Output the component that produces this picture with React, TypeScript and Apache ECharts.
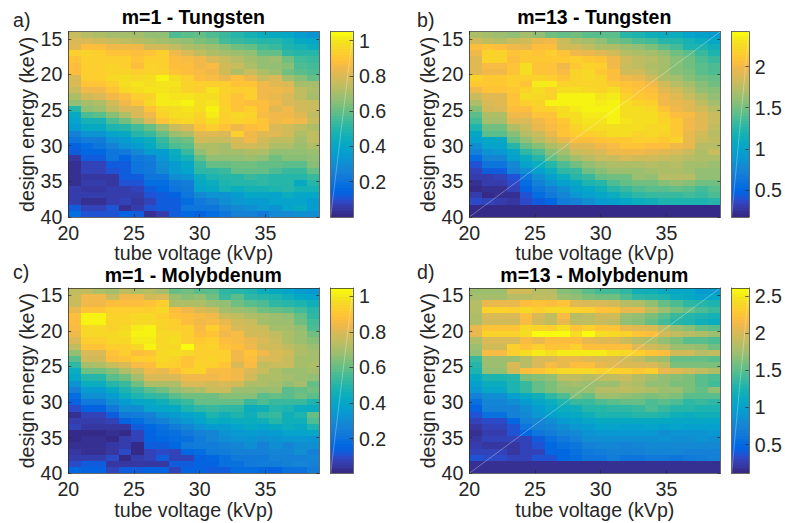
import React, { useEffect, useRef } from "react";
import * as echarts from "echarts";

// All panel values are the colour value x 100; rows run from the top (14 keV) down to 40 keV.
const panelA = [
[76,73,71,70,70,69,67,66,57,58,60,57,54,50,47,44,42,40,36,32],
[80,80,78,76,75,73,72,70,68,66,63,62,55,54,52,50,50,46,42,40],
[82,88,88,85,85,85,78,78,75,72,70,68,65,62,60,55,54,48,46,44],
[93,94,93,90,90,88,90,92,85,80,75,72,70,68,66,60,60,52,50,50],
[90,93,93,92,92,90,92,92,88,86,84,80,76,73,70,66,68,62,55,54],
[88,92,92,94,92,88,94,92,88,88,85,86,78,76,72,66,66,64,56,55],
[88,92,92,95,95,92,94,95,90,88,86,84,78,72,76,72,68,62,58,56],
[80,92,92,96,98,96,98,103,98,92,88,86,83,88,83,76,80,70,65,60],
[80,90,90,92,98,100,98,100,100,95,92,92,92,90,90,85,82,80,70,70],
[76,84,85,90,96,97,100,100,97,95,92,100,94,92,92,85,84,83,75,72],
[72,78,80,84,88,92,94,101,100,100,97,98,92,90,92,85,83,80,75,70],
[66,70,72,78,84,90,96,101,101,103,97,99,93,90,88,88,84,80,78,76],
[50,66,68,74,80,80,90,96,98,100,98,102,94,90,92,88,82,84,78,76],
[42,56,58,64,72,80,84,94,98,97,95,101,92,96,94,86,85,84,82,74],
[38,46,46,56,62,70,80,90,94,96,93,98,92,94,92,90,85,86,85,76],
[36,42,42,48,50,55,60,68,76,80,90,92,90,84,88,90,80,78,74,72],
[26,32,32,38,42,50,54,60,68,72,82,82,80,92,84,82,82,78,72,74],
[20,24,24,32,35,40,44,54,60,62,78,76,76,80,84,78,74,74,70,74],
[14,18,20,26,32,36,42,50,56,58,72,72,70,78,78,76,72,72,68,72],
[13,16,16,20,22,28,36,36,44,54,66,72,70,70,72,72,66,66,66,68],
[4,13,13,20,15,22,24,34,42,46,60,66,66,66,68,66,62,64,64,66],
[3,8,8,12,13,20,22,30,36,40,54,60,60,62,62,60,60,58,58,64],
[2,7,7,10,13,20,22,28,36,38,52,52,54,60,60,60,56,54,54,60],
[2,4,4,4,12,13,20,20,30,32,44,48,50,50,54,52,50,50,50,54],
[3,6,6,4,10,10,17,18,22,24,42,44,48,50,50,52,50,50,42,50],
[6,4,4,6,5,7,13,15,20,22,38,42,46,44,46,46,48,50,46,46],
[5,5,5,6,6,6,10,13,14,20,28,32,32,36,40,40,38,44,40,40],
[5,2,2,6,7,4,7,12,13,18,22,26,30,34,36,36,38,38,38,36],
[12,8,8,10,2,5,10,12,13,20,20,20,26,28,30,34,32,38,42,36],
[17,10,10,10,14,13,3,6,13,15,14,18,20,26,25,22,28,28,30,30],
];

const panelB = [
[172,165,162,160,168,160,150,145,150,142,142,142,125,120,115,110,110,100,95,92],
[185,178,175,180,185,195,200,180,172,165,160,150,145,138,135,125,125,118,110,105],
[205,210,205,200,195,205,205,185,185,178,172,170,162,160,152,142,135,122,120,115],
[198,218,218,208,212,210,215,210,198,195,190,185,175,172,165,158,150,142,130,120],
[190,218,218,205,212,212,212,212,215,212,210,198,185,178,175,168,155,148,140,132],
[192,202,202,210,225,208,208,200,212,218,215,198,182,178,172,165,155,150,142,138],
[190,200,200,210,228,210,208,202,220,222,212,205,185,185,175,168,155,152,142,138],
[220,212,212,215,215,220,215,210,218,222,218,205,200,195,185,172,168,155,148,145],
[212,212,212,215,210,232,235,218,220,220,220,212,208,205,198,185,175,165,155,150],
[198,208,208,212,218,228,215,228,228,222,220,225,212,208,205,190,185,175,160,155],
[182,192,192,210,225,222,220,238,238,238,230,235,220,212,210,198,190,182,172,160],
[172,188,190,208,215,220,238,238,238,238,232,236,225,218,215,200,195,190,178,168],
[155,185,188,205,205,215,220,225,233,238,238,238,228,225,222,208,198,192,185,175],
[142,172,172,200,198,210,210,228,225,233,235,238,228,225,225,215,205,202,192,180],
[135,165,168,190,188,200,205,212,225,230,230,238,230,228,225,218,212,200,190,180],
[120,150,150,172,182,195,202,208,220,225,228,228,228,228,222,222,212,198,190,178],
[102,142,142,155,175,182,195,208,215,215,220,225,225,220,222,220,212,195,185,175],
[95,105,105,145,160,175,185,195,205,205,208,212,212,215,215,212,218,195,180,178],
[82,100,100,125,145,155,172,178,190,192,200,202,210,210,205,205,200,195,175,175],
[72,85,88,105,128,140,155,168,180,185,188,200,200,200,195,192,188,182,172,182],
[55,75,75,95,110,125,145,155,168,175,180,180,188,185,185,182,178,175,170,172],
[40,62,62,78,100,110,125,140,150,160,168,172,172,172,175,172,175,165,165,162],
[32,42,42,72,82,95,112,128,132,150,155,162,162,162,165,172,172,168,160,158],
[28,30,32,40,62,82,98,112,125,130,145,150,150,162,160,175,175,175,160,158],
[22,28,28,38,55,70,85,95,108,120,125,138,145,148,150,155,160,155,150,150],
[20,22,22,32,48,62,72,82,95,105,115,125,132,138,142,142,145,142,135,142],
[28,20,22,22,40,55,65,75,88,95,105,112,120,128,130,130,130,135,130,138],
[35,32,30,26,35,42,52,68,72,82,92,95,105,112,115,120,120,120,120,125],
[20,20,20,20,20,20,20,20,20,20,20,20,20,20,20,20,20,20,20,20],
[20,20,20,20,20,20,20,20,20,20,20,20,20,20,20,20,20,20,20,20],
];

const panelC = [
[74,74,72,70,74,72,73,70,60,62,58,58,52,50,48,44,42,38,36,34],
[76,85,85,76,84,84,78,80,68,64,66,62,54,58,52,50,48,46,40,38],
[76,85,85,88,88,88,90,92,72,72,72,68,66,62,58,56,52,50,48,46],
[82,90,90,92,92,92,92,96,88,84,80,78,70,68,66,62,60,58,55,50],
[88,102,102,94,94,96,96,92,90,88,86,84,76,74,72,70,68,66,60,52],
[88,102,102,94,94,96,96,94,92,88,84,86,82,78,76,70,68,68,62,55],
[86,96,96,94,96,101,102,94,92,92,86,92,86,80,78,76,70,70,66,56],
[84,96,96,96,97,102,103,96,96,93,88,90,84,86,78,78,74,72,68,62],
[80,93,93,96,96,101,101,96,98,92,91,92,88,86,82,80,76,72,68,64],
[74,90,90,93,93,96,103,96,96,104,92,94,90,88,84,78,78,74,72,68],
[66,80,80,90,92,88,90,96,97,96,92,92,92,84,90,84,80,78,72,70],
[58,78,78,88,90,92,92,96,94,90,92,94,92,85,88,80,80,76,70,70],
[52,70,72,76,80,86,88,94,92,90,94,92,90,80,86,74,76,76,70,72],
[44,62,62,64,72,76,84,82,88,92,94,86,86,84,80,76,72,68,68,70],
[40,50,50,58,62,70,80,80,80,84,84,84,86,84,78,72,72,70,68,66],
[32,44,44,50,54,62,72,72,72,80,80,78,80,78,72,72,70,66,70,60],
[26,36,36,42,48,54,58,62,66,70,72,76,76,68,68,66,68,58,60,62],
[18,30,30,36,44,48,52,54,58,62,62,62,64,64,64,58,60,58,62,58],
[14,22,22,30,36,40,42,46,50,54,60,60,60,60,54,56,54,54,54,48],
[10,14,14,22,30,30,38,40,42,48,52,54,52,52,44,46,50,48,44,44],
[3,8,8,12,22,24,26,32,36,38,42,48,46,48,46,52,54,46,48,60],
[6,6,6,8,14,18,22,26,30,34,38,44,42,44,44,46,50,46,46,56],
[8,4,4,4,4,12,16,20,24,28,32,36,36,38,42,38,42,44,42,48],
[2,2,2,3,2,8,14,17,20,22,26,28,32,34,36,34,36,38,38,40],
[2,3,3,1,6,8,14,16,18,20,24,28,30,32,32,30,32,34,34,32],
[3,3,3,4,7,2,12,12,16,22,24,24,26,28,30,26,30,28,30,30],
[4,3,3,5,9,2,8,10,8,16,18,22,24,26,26,26,28,28,30,26],
[7,7,7,10,1,6,8,12,8,8,14,16,20,22,22,22,26,26,26,28],
[10,13,13,5,4,4,4,4,12,12,14,14,20,20,22,24,24,26,28,26],
[16,14,14,8,13,13,15,14,8,14,15,12,12,18,18,16,14,20,20,24],
];

const panelD = [
[175,172,172,195,195,185,185,165,160,150,142,142,135,120,120,110,105,105,95,95],
[178,178,178,185,185,190,190,172,170,160,158,158,145,135,132,125,115,110,102,105],
[185,210,210,210,220,225,220,225,205,200,200,195,185,180,170,155,145,135,130,125],
[185,235,235,232,238,230,238,238,235,230,225,225,208,208,190,172,162,155,145,140],
[180,200,200,200,220,200,190,215,185,190,195,195,175,170,162,150,140,132,128,122],
[180,195,195,195,215,195,190,210,190,190,192,190,170,165,155,142,132,125,120,115],
[210,225,225,225,238,235,230,245,225,230,225,225,210,205,200,185,175,165,155,150],
[210,235,235,235,245,258,260,258,245,260,242,240,235,225,220,198,190,185,180,172],
[180,200,200,200,215,210,220,220,220,210,205,205,192,185,180,170,162,150,148,145],
[175,195,195,230,225,230,225,225,230,220,220,220,220,205,198,190,175,175,170,158],
[170,215,215,230,242,250,245,252,250,250,252,242,238,230,225,220,195,195,185,190],
[140,175,175,175,185,200,200,210,210,205,200,202,198,188,178,172,155,155,155,148],
[130,175,175,200,185,200,215,210,220,220,210,205,200,200,200,190,160,160,162,160],
[125,170,170,195,220,225,230,240,240,240,235,235,232,228,230,208,205,195,190,180],
[110,125,125,132,160,165,170,190,190,185,190,190,192,185,178,170,165,162,150,145],
[100,115,115,125,140,155,160,175,178,175,175,175,185,180,170,168,160,160,150,142],
[90,105,105,125,140,155,160,170,170,172,185,185,188,185,180,175,172,162,152,168],
[70,85,85,100,110,120,135,145,160,155,175,172,170,165,160,165,162,150,150,150],
[55,75,75,85,95,105,115,125,140,140,145,150,152,155,145,150,145,135,140,135],
[45,70,70,72,85,95,105,115,120,130,130,135,135,138,145,140,130,130,128,128],
[35,55,55,70,80,90,100,105,110,120,125,125,128,130,130,125,120,115,120,120],
[30,32,32,50,70,75,85,95,100,105,110,110,112,110,112,110,105,108,105,105],
[22,28,28,38,60,70,75,85,90,95,102,102,100,100,102,100,102,100,98,98],
[18,25,25,35,50,60,68,75,80,88,92,90,92,90,92,85,88,88,88,90],
[20,27,27,27,30,42,55,65,72,85,85,85,85,85,85,88,85,85,88,85],
[25,22,22,20,30,36,50,55,60,70,75,75,72,75,78,78,80,80,78,78],
[30,28,28,22,28,30,48,50,55,65,68,70,70,72,75,75,75,72,72,72],
[35,32,32,30,30,36,38,50,52,62,62,66,60,62,65,65,62,65,66,70],
[17,17,17,17,17,17,17,17,17,17,17,17,17,17,17,17,17,17,17,17],
[17,17,17,17,17,17,17,17,17,17,17,17,17,17,17,17,17,17,17,17],
];

const titles = ["m=1 - Tungsten", "m=13 - Tungsten", "m=1 - Molybdenum", "m=13 - Molybdenum"];
const letters = ["a)", "b)", "c)", "d)"];
const panels = [panelA, panelB, panelC, panelD];
const colorRanges = [[0, 1.05], [0.17, 2.425], [0.005, 1.047], [0.113, 2.61]];
const colorTicks = [[0.2, 0.4, 0.6, 0.8, 1], [0.5, 1, 1.5, 2], [0.2, 0.4, 0.6, 0.8, 1], [0.5, 1, 1.5, 2, 2.5]];
const hasDiagonal = [false, true, false, true];
const xTicks = [20, 25, 30, 35];
const yTicks = [15, 20, 25, 30, 35, 40];
const xRange = [20, 39.1];
const yRange = [14, 40];

const parula = [
[.2081,.1663,.5292],[.2116,.1898,.5777],[.2123,.2138,.6270],[.2081,.2386,.6771],[.1959,.2645,.7279],[.1707,.2919,.7792],[.1253,.3242,.8303],[.0591,.3598,.8683],
[.0117,.3875,.8820],[.0060,.4086,.8828],[.0165,.4266,.8786],[.0329,.4430,.8720],[.0498,.4586,.8641],[.0629,.4737,.8554],[.0723,.4887,.8467],[.0779,.5040,.8384],
[.0793,.5200,.8312],[.0749,.5375,.8263],[.0641,.5570,.8240],[.0488,.5772,.8228],[.0343,.5966,.8199],[.0265,.6137,.8135],[.0239,.6287,.8038],[.0231,.6418,.7913],
[.0228,.6535,.7768],[.0267,.6642,.7607],[.0384,.6743,.7436],[.0590,.6838,.7254],[.0843,.6928,.7062],[.1133,.7015,.6859],[.1453,.7098,.6646],[.1801,.7177,.6424],
[.2178,.7250,.6193],[.2586,.7317,.5954],[.3022,.7376,.5712],[.3482,.7424,.5473],[.3953,.7459,.5244],[.4420,.7481,.5033],[.4871,.7491,.4840],[.5300,.7491,.4661],
[.5709,.7485,.4494],[.6099,.7473,.4337],[.6473,.7456,.4188],[.6834,.7435,.4044],[.7184,.7411,.3905],[.7525,.7384,.3768],[.7858,.7356,.3633],[.8185,.7327,.3498],
[.8507,.7299,.3360],[.8824,.7274,.3217],[.9139,.7258,.3063],[.9450,.7261,.2886],[.9739,.7314,.2666],[.9938,.7455,.2403],[.9990,.7653,.2164],[.9955,.7861,.1967],
[.9880,.8066,.1794],[.9789,.8271,.1633],[.9697,.8481,.1475],[.9626,.8705,.1309],[.9589,.8949,.1132],[.9598,.9218,.0948],[.9661,.9514,.0755],[.9763,.9831,.0538],
];

const INK = "#262626";
const FONT = "'Liberation Sans', Arial, sans-serif";
const plotLefts = [68.3, 469.3, 68.3, 469.3];
const plotTops = [31.7, 31.7, 288, 288];
const titleTops = [7, 7, 265, 265];
const letterTops = [9.5, 9.5, 261.5, 261.5];
const plotW = 251;
const plotH = 185.3;
const barGap = 11.4;
const barW = 22.3;

function colorOf(v: number, range: number[]) {
  const t = (v - range[0]) / (range[1] - range[0]);
  const i = Math.max(0, Math.min(63, Math.floor(t * 64)));
  const c = parula[i];
  return `rgb(${Math.round(c[0] * 255)},${Math.round(c[1] * 255)},${Math.round(c[2] * 255)})`;
}

function rectItem(api: any, x0: number, y0: number, x1: number, y1: number, fill: string) {
  const a = api.coord([x0, y0]);
  const b = api.coord([x1, y1]);
  const l = Math.round(Math.min(a[0], b[0]));
  const r = Math.round(Math.max(a[0], b[0]));
  const t = Math.round(Math.min(a[1], b[1]));
  const d = Math.round(Math.max(a[1], b[1]));
  return { type: "rect", shape: { x: l, y: t, width: r - l, height: d - t }, style: { fill } };
}

function buildOption() {
  const grid: any[] = [];
  const xAxis: any[] = [];
  const yAxis: any[] = [];
  const series: any[] = [];
  const title: any[] = [];

  const line = { show: true, onZero: false, lineStyle: { color: INK, width: 0.7 } };
  const tick = (vals: number[], len = 3) => ({ show: true, inside: true, length: len, customValues: vals, lineStyle: { color: INK, width: 0.7 } });
  const noTick = { show: false };
  const base = { type: "value", z: 10, splitLine: { show: false }, silent: true };
  const labelStyle = { color: INK, fontSize: 19.6, fontFamily: FONT };

  panels.forEach((rows, p) => {
    const left = plotLefts[p];
    const top = plotTops[p];
    const range = colorRanges[p];
    const g = grid.length;
    grid.push({ left, top, width: plotW, height: plotH, show: false });
    const xi = xAxis.length;
    xAxis.push({
      ...base, gridIndex: g, position: "bottom", min: xRange[0], max: xRange[1], axisLine: line, axisTick: tick(xTicks),
      axisLabel: { ...labelStyle, customValues: xTicks, margin: 5.5, formatter: (v: number) => String(v) },
      name: "tube voltage (kVp)", nameLocation: "middle", nameGap: 25, nameTextStyle: labelStyle,
    });
    xAxis.push({ ...base, gridIndex: g, position: "top", min: xRange[0], max: xRange[1], axisLine: line, axisTick: tick(xTicks), axisLabel: { show: false } });
    const yi = yAxis.length;
    yAxis.push({
      ...base, gridIndex: g, position: "left", inverse: true, min: yRange[0], max: yRange[1], axisLine: line, axisTick: tick(yTicks),
      axisLabel: { ...labelStyle, customValues: yTicks, margin: 6, formatter: (v: number) => String(v) },
      name: "design energy (keV)", nameLocation: "middle", nameGap: 29, nameTextStyle: labelStyle,
    });
    yAxis.push({ ...base, gridIndex: g, position: "right", inverse: true, min: yRange[0], max: yRange[1], axisLine: line, axisTick: tick(yTicks), axisLabel: { show: false } });

    const nCols = rows[0].length;
    const nRows = rows.length;
    const dx = (xRange[1] - xRange[0]) / nCols;
    const dy = (yRange[1] - yRange[0]) / nRows;
    const cells: number[][] = [];
    rows.forEach((row, r) => row.forEach((v, c) => cells.push([xRange[0] + c * dx, yRange[0] + r * dy, v / 100])));
    series.push({
      type: "custom", xAxisIndex: xi, yAxisIndex: yi, data: cells, silent: true, clip: true,
      encode: { x: 0, y: 1 },
      renderItem: (_: any, api: any) => {
        const x = api.value(0);
        const y = api.value(1);
        return rectItem(api, x, y, x + dx, y + dy, colorOf(api.value(2), range));
      },
    });
    if (hasDiagonal[p]) {
      series.push({
        type: "line", xAxisIndex: xi, yAxisIndex: yi, data: [[xRange[0], yRange[1]], [xRange[1], yRange[0]]], z: 5, silent: true,
        symbol: "none", lineStyle: { color: "#ffffff", width: 0.6, opacity: 0.55 },
      });
    }

    // colour bar
    const bg = grid.length;
    grid.push({ left: left + plotW + barGap, top, width: barW, height: plotH, show: false });
    const bxi = xAxis.length;
    xAxis.push({ ...base, gridIndex: bg, position: "bottom", min: 0, max: 1, axisLine: line, axisTick: noTick, axisLabel: { show: false } });
    xAxis.push({ ...base, gridIndex: bg, position: "top", min: 0, max: 1, axisLine: line, axisTick: noTick, axisLabel: { show: false } });
    const byi = yAxis.length;
    yAxis.push({
      ...base, gridIndex: bg, position: "right", min: range[0], max: range[1], axisLine: line, axisTick: tick(colorTicks[p], 3.5),
      axisLabel: { ...labelStyle, customValues: colorTicks[p], margin: 6, formatter: (v: number) => String(v) },
    });
    yAxis.push({ ...base, gridIndex: bg, position: "left", min: range[0], max: range[1], axisLine: line, axisTick: noTick, axisLabel: { show: false } });
    const step = (range[1] - range[0]) / parula.length;
    series.push({
      type: "custom", xAxisIndex: bxi, yAxisIndex: byi, data: parula.map((_, i) => [0, range[0] + i * step]), silent: true,
      encode: { x: 0, y: 1 },
      renderItem: (params: any, api: any) => {
        const y = api.value(1);
        const c = parula[params.dataIndex];
        return rectItem(api, 0, y, 1, y + step, `rgb(${Math.round(c[0] * 255)},${Math.round(c[1] * 255)},${Math.round(c[2] * 255)})`);
      },
    });
    series.push({
      type: "line", xAxisIndex: bxi, yAxisIndex: byi, data: [[0, range[0]], [1, range[1]]], z: 5, silent: true,
      symbol: "none", lineStyle: { color: "#ffffff", width: 0.6, opacity: 0.5 },
    });

    title.push({
      text: titles[p], left: left + plotW / 2 - 0.5, top: titleTops[p], textAlign: "center", padding: 0,
      textStyle: { color: "#000000", fontSize: 19.5, fontWeight: "bold", fontFamily: FONT },
    });
    title.push({
      text: letters[p], left: p % 2 === 0 ? 13 : 417, top: letterTops[p], padding: 0,
      textStyle: { color: INK, fontSize: 19.6, fontWeight: "normal", fontFamily: FONT },
    });
  });

  return { animation: false, backgroundColor: "#ffffff", title, grid, xAxis, yAxis, series };
}

export default function App() {
  const ref = useRef<HTMLDivElement>(null);
  useEffect(() => {
    const chart = echarts.init(ref.current!, undefined, { renderer: "svg" });
    chart.setOption(buildOption() as any);
    return () => chart.dispose();
  }, []);
  return <div ref={ref} style={{ position: "absolute", left: 0, top: 0, width: 785, height: 523 }} />;
}
